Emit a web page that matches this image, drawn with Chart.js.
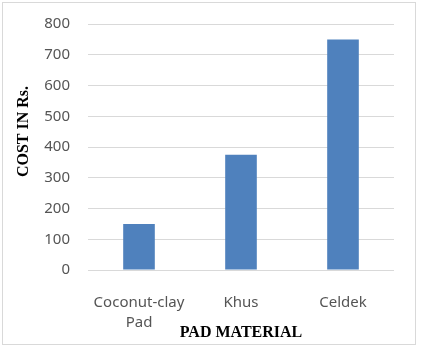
<!DOCTYPE html>
<html lang="en">
<head>
<meta charset="UTF-8">
<title>Pad material cost</title>
<script src="https://cdn.jsdelivr.net/npm/chart.js"></script>
<style>
body {
  margin: 0;
  padding: 0;
  background: #fff;
}
.chart-box {
  position: relative;
  width: 423px;
  height: 346px;
}
</style>
</head>
<body>

<div class="chart-box">
  <canvas id="costChart"></canvas>
</div>

<script>
// data
const materials = [['Coconut-clay', 'Pad'], 'Khus', 'Celdek'];
const costs = [150, 375, 750];
const yTicks = [0, 100, 200, 300, 400, 500, 600, 700, 800];

const tickFont = { family: "'Noto Sans', sans-serif", size: 15, lineHeight: 1.38 };
const titleFont = { family: "'Liberation Serif', 'Times New Roman', serif", size: 16, weight: 'bold' };

// outer frame + rotated y title
const framePlugin = {
  id: 'frame',
  afterDraw(chart) {
    const ctx = chart.ctx;
    ctx.save();
    ctx.strokeStyle = '#d9d9d9';
    ctx.lineWidth = 1;
    ctx.strokeRect(2.5, 2.5, 413, 342);
    ctx.translate(24, 131.5);
    ctx.rotate(-Math.PI / 2);
    ctx.font = 'bold 16px "Liberation Serif", "Times New Roman", serif';
    ctx.fillStyle = '#000';
    ctx.textAlign = 'center';
    ctx.textBaseline = 'middle';
    ctx.fillText('COST IN Rs.', 0, 0);
    ctx.restore();
  }
};

const ctx = document.getElementById('costChart').getContext('2d');
new Chart(ctx, {
  type: 'bar',
  data: {
    labels: materials,
    datasets: [{
      label: 'COST IN Rs.',
      data: costs,
      backgroundColor: '#4F81BD',
      borderColor: '#4F81BD',
      borderWidth: 0,
      categoryPercentage: 1,
      barPercentage: 0.31
    }]
  },
  options: {
    responsive: true,
    maintainAspectRatio: false,
    animation: false,
    layout: { padding: { left: 0, right: 29, top: 24, bottom: 0 } },
    plugins: {
      legend: { display: false },
      tooltip: { enabled: false }
    },
    scales: {
      x: {
        grid: { display: false, drawTicks: false },
        border: { display: false },
        ticks: { color: '#555555', font: tickFont, padding: 22 },
        title: {
          display: true,
          text: 'PAD MATERIAL',
          color: '#000',
          font: titleFont,
          padding: { top: 0, bottom: 4 }
        },
        afterFit(scale) { scale.height = 76; }
      },
      y: {
        min: 0,
        max: 800,
        afterBuildTicks(scale) {
          scale.ticks = yTicks.map(v => ({ value: v }));
        },
        grid: { color: '#d9d9d9', lineWidth: 1, drawTicks: false },
        border: { display: false },
        ticks: { color: '#555555', font: tickFont, padding: 18 },
        afterFit(scale) {
          scale.width = 88;
          scale.paddingTop = 0;
          scale.paddingBottom = 0;
        }
      }
    }
  },
  plugins: [framePlugin]
});
</script>

</body>
</html>
